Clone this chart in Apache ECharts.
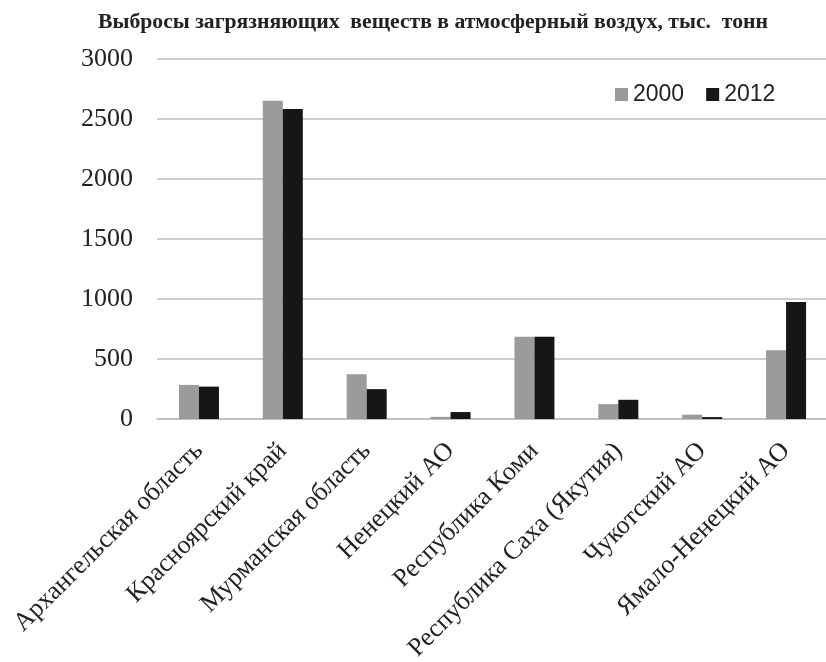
<!DOCTYPE html>
<html>
<head>
<meta charset="utf-8">
<script src="https://cdn.jsdelivr.net/npm/echarts@6/dist/echarts.min.js"></script>
<style>
  html, body { margin: 0; padding: 0; background: #fff; }
  #chart { width: 826px; height: 662px; }
</style>
</head>
<body>
<div id="chart"></div>
<script>
// регионы и выбросы, тыс. тонн
var regions = ['Архангельская область', 'Красноярский край', 'Мурманская область', 'Ненецкий АО',
  'Республика Коми', 'Республика Саха (Якутия)', 'Чукотский АО', 'Ямало-Ненецкий АО'];
var years = ['2000', '2012'];
var values2000 = [284, 2653, 373, 18, 685, 124, 36, 572];
var values2012 = [270, 2584, 249, 58, 685, 160, 16, 975];

var myChart = echarts.init(document.getElementById('chart'));
var option = {
  backgroundColor: '#fff',
  animation: false,
  title: {
    text: 'Выбросы загрязняющих  веществ в атмосферный воздух, тыс.  тонн',
    left: 93,
    top: 6,
    textStyle: {
      fontFamily: 'Liberation Serif',
      fontWeight: 'bold',
      fontSize: 21.7,
      color: '#222'
    }
  },
  legend: {
    data: years,
    left: 610,
    top: 78,
    itemWidth: 13,
    itemHeight: 13,
    itemGap: 22,
    icon: 'rect',
    itemStyle: { borderWidth: 0 },
    textStyle: { fontFamily: 'Liberation Sans', fontSize: 23, color: '#222' }
  },
  grid: { left: 157, right: -2, top: 59, bottom: 243, outerBoundsMode: 'none' },
  xAxis: {
    type: 'category',
    data: regions,
    axisLine: { lineStyle: { color: '#bdbdbd', width: 1.5 } },
    axisTick: { show: false },
    axisLabel: {
      rotate: 45,
      interval: 0,
      margin: 28,
      fontFamily: 'Liberation Serif',
      fontSize: 26,
      color: '#222'
    }
  },
  yAxis: {
    type: 'value',
    min: 0,
    max: 3000,
    interval: 500,
    axisLine: { show: false },
    axisTick: { show: false },
    splitLine: { lineStyle: { color: '#bdbdbd', width: 1.5 } },
    axisLabel: {
      margin: 24,
      formatter: function (v) { return String(v); },
      fontFamily: 'Liberation Serif',
      fontSize: 26,
      color: '#222'
    }
  },
  series: [{
    name: years[0],
    type: 'bar',
    data: values2000,
    barWidth: 20,
    barGap: '0%',
    itemStyle: { color: '#9b9b9b' }
  }, {
    name: years[1],
    type: 'bar',
    data: values2012,
    barWidth: 20,
    itemStyle: { color: '#161616' }
  }]
};
myChart.setOption(option);
</script>
</body>
</html>
